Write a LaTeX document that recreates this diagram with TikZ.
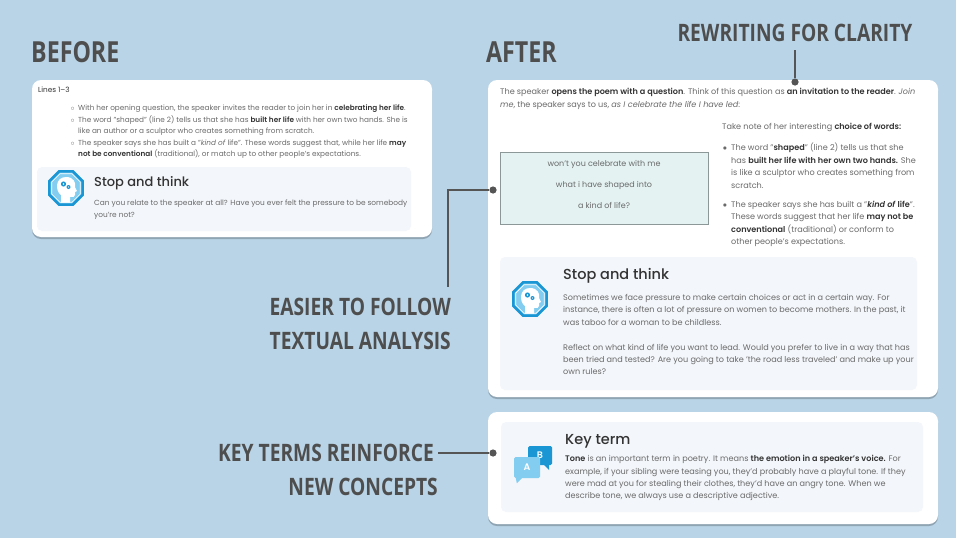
\documentclass[tikz,border=0pt]{standalone}
\usepackage{fontspec}
\setmainfont{Poppins}[BoldFont={Poppins SemiBold}, BoldItalicFont={Poppins SemiBold Italic}]
\newfontfamily\titlefont{Poppins Medium}
\newfontfamily\headfont[FakeStretch=0.8]{Open Sans}
\usetikzlibrary{positioning,shapes.geometric,shadows}

\definecolor{bgblue}{HTML}{B9D4E6}
\definecolor{panelgray}{HTML}{F3F6FA}
\definecolor{poemteal}{HTML}{E4F2F2}
\definecolor{poemedge}{HTML}{8C9898}
\definecolor{textgray}{HTML}{6A6A6A}
\definecolor{textdark}{HTML}{333333}
\definecolor{headgray}{HTML}{4E4E4E}
\definecolor{linegray}{HTML}{555555}
\definecolor{iconblue}{HTML}{1A96D4}
\definecolor{iconlight}{HTML}{83CDF0}

\newcommand{\bfdark}[1]{\textcolor{textdark}{\textbf{#1}}}

\begin{document}
\begin{tikzpicture}[x = 1pt, y = -1pt,
  card/.style={fill=white, rounded corners=9pt, inner sep=0pt, drop shadow={shadow xshift=0pt, shadow yshift=-2pt, fill=black, opacity=.22}},
  panel/.style={fill=panelgray, rounded corners=5pt, inner sep=0pt},
  body/.style={font=\fontsize{8.1}{12.4}\selectfont, text=textgray, align=left, inner sep=0pt, anchor=north west},
  smallbody/.style={body, font=\fontsize{7.3}{11.5}\selectfont},
  boxtitle/.style={font=\titlefont\fontsize{14.5}{14.5}\selectfont, text=textdark, inner sep=0pt, anchor=west},
  hlabel/.style={font=\headfont\bfseries\fontsize{24}{24}\selectfont, text=headgray, inner sep=0pt},
  connector/.style={draw=linegray, line width=2.6pt},
  dot/.style={circle, fill=linegray, inner sep=0pt, minimum size=7.2pt},
  octo/.style={regular polygon, regular polygon sides=8, minimum size=36pt, inner sep=0pt, fill=iconlight, draw=iconblue, line width=2.6pt},
  octoinner/.style={regular polygon, regular polygon sides=8, minimum size=31pt, inner sep=0pt, draw=white, line width=0.7pt},
  bubble/.style={rounded corners=1.5pt, minimum width=24pt, minimum height=19pt, inner sep=0pt, text=white, font=\bfseries\fontsize{9.5}{9.5}\selectfont},
  thinkicon/.pic={
    \node[octo] (-octo) at (0,0) {};
    \node[octoinner] (-inner) at (0,0) {};
    \fill[white] (-5,14.5) -- (-5,7) .. controls (-11,3) and (-11,-11) .. (0,-11) .. controls (8,-11) and (10,-5) .. (9,-1) -- (11,3) -- (9,4) -- (9,7) .. controls (9,9) and (7,9.5) .. (4,9) -- (4,14.5) -- cycle;
    \fill[iconblue] (-2.5,-4) circle (2.6);
    \fill[iconblue] (2.5,-1) circle (2);
    \fill[white] (-2.5,-4) circle (0.9);
    \fill[white] (2.5,-1) circle (0.7);
  }]
\path[use as bounding box, fill=bgblue] (0,0) rectangle (956,538);

\node[card, minimum width=400pt, minimum height=157pt] (beforecard) at (232,158.5) {};
\node[panel, minimum width=374pt, minimum height=64pt] (beforepanel) at (224,199) {};
\node[card, minimum width=450pt, minimum height=317pt] (aftercard) at (713,238.5) {};
\node[draw=poemedge, fill=poemteal, line width=0.7pt, minimum width=208pt, minimum height=72pt, inner sep=0pt] (poembox) at (604,188) {};
\node[panel, minimum width=417pt, minimum height=133pt] (afterpanel) at (708.5,323.5) {};
\node[card, minimum width=450pt, minimum height=112pt] (keycard) at (713,468) {};
\node[panel, minimum width=422pt, minimum height=90pt] (keypanel) at (712,467) {};

\node[hlabel, font=\headfont\bfseries\fontsize{29}{29}\selectfont, anchor=west] (before) at (31,52) {BEFORE};
\node[hlabel, font=\headfont\bfseries\fontsize{29}{29}\selectfont, anchor=west] (after) at (486,52) {AFTER};
\node[hlabel] (rewrite) at (795,33) {REWRITING FOR CLARITY};
\node[hlabel, anchor=east] (easier1) at (451,307) {EASIER TO FOLLOW};
\node[hlabel, below=16pt of easier1.south east, anchor=north east] (easier2) {TEXTUAL ANALYSIS};
\node[hlabel, anchor=east] (keyterms1) at (434,453) {KEY TERMS REINFORCE};
\node[hlabel, below=16pt of keyterms1.south east, anchor=north east, xshift=4pt] (keyterms2) {NEW CONCEPTS};

\node[dot] (rewritedot) at (795,82) {};
\node[dot] (easierdot) at (493,190) {};
\node[dot] (keytermsdot) at (493,453) {};
\draw[connector] (rewrite.south) ++(0,8) -- (rewritedot);
\draw[connector] (easier1.north east) ++(-3,-11) |- (easierdot);
\draw[connector] (keyterms1.east) ++(4,0) -- (keytermsdot);

\node[smallbody, text=textdark] (lines) at (38,87.1) {Lines 1–3};
\node[smallbody] (beforelist) at (78,104.6) {\llap{$\circ$\hspace{3.5pt}}With her opening question, the speaker invites the reader to join her in \bfdark{celebrating her life}.\\
\llap{$\circ$\hspace{3.5pt}}The word "shaped" (line 2) tells us that she has \bfdark{built her life} with her own two hands. She is\\
like an author or a sculptor who creates something from scratch.\\
\llap{$\circ$\hspace{3.5pt}}The speaker says she has built a "\textit{kind of} life". These words suggest that, while her life \bfdark{may}\\
\bfdark{not be conventional} (traditional), or match up to other people's expectations.};
\pic (beforeicon) at (66,188) {thinkicon};
\node[boxtitle, font=\titlefont\fontsize{13}{13}\selectfont] (beforetitle) at (94,183) {Stop and think};
\node[body, font=\fontsize{7.4}{12}\selectfont] (beforethink) at (94,199.6) {Can you relate to the speaker at all? Have you ever felt the pressure to be somebody\\ you're not?};

\node[body] (intro) at (500,88.2) {The speaker \bfdark{opens the poem with a question}. Think of this question as \bfdark{an invitation to the reader}. \textit{Join}\\
\textit{me}, the speaker says to us, \textit{as I celebrate the life I have led}:};
\node[font=\fontsize{8}{21}\selectfont, text=textgray, align=center, inner sep=0pt] (poem) at (604,184) {won't you celebrate with me\\ what i have shaped into\\ a kind of life?};
\node[body] (takenote) at (722,123.2) {Take note of her interesting \bfdark{choice of words:}};
\node[body] (wordlist) at (731,143.2) {\llap{$\bullet$\hspace{4pt}}The word "\bfdark{shaped}" (line 2) tells us that she\\
has \bfdark{built her life with her own two hands.} She\\
is like a sculptor who creates something from\\
scratch.\\[7pt]
\llap{$\bullet$\hspace{4pt}}The speaker says she has built a "\bfdark{\textit{kind of} life}".\\
These words suggest that her life \bfdark{may not be}\\
\bfdark{conventional} (traditional) or conform to\\
other people's expectations.};

\pic (aftericon) at (530,299) {thinkicon};
\node[boxtitle] (aftertitle) at (563,276) {Stop and think};
\node[body] (afterthink) at (563,294.2) {Sometimes we face pressure to make certain choices or act in a certain way. For\\
instance, there is often a lot of pressure on women to become mothers. In the past, it\\
was taboo for a woman to be childless.\\[12.4pt]
Reflect on what kind of life you want to lead. Would you prefer to live in a way that has\\
been tried and tested? Are you going to take 'the road less traveled' and make up your\\
own rules?};

\node[bubble, fill=iconblue] (bubbleb) at (540,455.5) {B};
\fill[iconblue] ([xshift=-8pt]bubbleb.south east) -- ([xshift=-3pt]bubbleb.south east) -- ++(0,5) -- cycle;
\node[bubble, fill=iconlight, minimum width=26pt, minimum height=21pt] (bubblea) at (527,467.5) {A};
\fill[iconlight] ([xshift=2pt]bubblea.south west) -- ([xshift=8pt]bubblea.south west) -- ([xshift=3pt,yshift=-5pt]bubblea.south west) -- cycle;
\node[boxtitle] (keytitle) at (565,441) {Key term};
\node[body] (keytext) at (565,455.2) {\bfdark{Tone} is an important term in poetry. It means \bfdark{the emotion in a speaker's voice.} For\\
example, if your sibling were teasing you, they'd probably have a playful tone. If they\\
were mad at you for stealing their clothes, they'd have an angry tone. When we\\
describe tone, we always use a descriptive adjective.};
\end{tikzpicture}
\end{document}
